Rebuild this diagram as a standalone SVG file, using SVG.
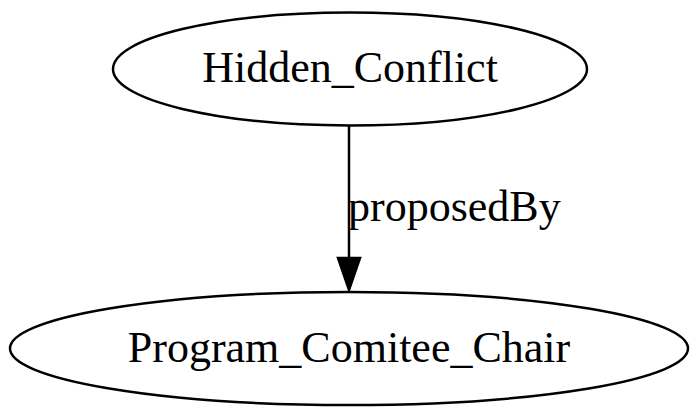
<svg xmlns="http://www.w3.org/2000/svg" width="700" height="416" viewBox="0 0 700 416">
<style>
.node ellipse{fill:none;stroke:#000;stroke-width:2.5}
.lbl{font-family:"Liberation Serif","Times New Roman",serif;font-size:44px;fill:#000}
.edge line{stroke:#000;stroke-width:2.5}
.edge polygon{fill:#000;stroke:#000;stroke-width:2.5}
</style>
<rect width="700" height="416" fill="#fff"/>
<g id="Hidden_Conflict" class="node">
<ellipse cx="350" cy="69" rx="237" ry="56.5"/>
<text class="lbl" x="350" y="82" text-anchor="middle">Hidden_Conflict</text>
</g>
<g id="Program_Comitee_Chair" class="node">
<ellipse cx="349" cy="348.5" rx="339" ry="56.5"/>
<text class="lbl" x="349" y="362" text-anchor="middle">Program_Comitee_Chair</text>
</g>
<g id="connectors" class="edge">
<line x1="349" y1="126" x2="349" y2="258"/>
<polygon points="338,258 360,258 349,290"/>
<text class="lbl" x="348" y="221">proposedBy</text>
</g>
</svg>
